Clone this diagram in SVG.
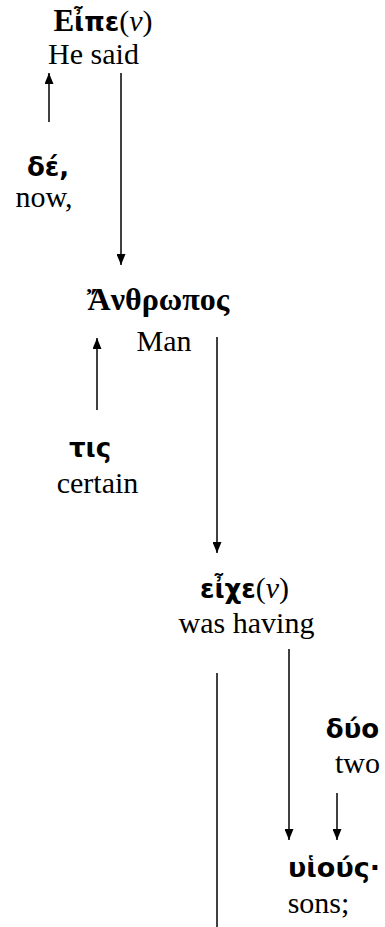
<svg xmlns="http://www.w3.org/2000/svg" width="385" height="927" viewBox="0 0 385 927">
<defs>
<marker id="ah" markerUnits="userSpaceOnUse" markerWidth="11" markerHeight="9" refX="11" refY="4.5" orient="auto">
<path d="M0,0 L11,4.5 L0,9 z" fill="#000"/>
</marker>
<style>
.en{font-family:"Liberation Serif","Times New Roman",serif;font-size:30px;fill:#000;text-anchor:middle}
.gr{font-family:"DejaVu Sans","Noto Sans",sans-serif;font-weight:bold;font-size:26px;fill:#000;text-anchor:middle}
.grs{font-family:"Liberation Serif","Times New Roman",serif;font-weight:bold;font-size:32px;fill:#000;text-anchor:middle}
.ser{font-family:"Liberation Serif","Times New Roman",serif;font-weight:normal;font-size:30px}
.sb{font-family:"Liberation Serif","Times New Roman",serif;font-weight:bold;font-size:31px}
.it{font-style:italic}
.c{stroke:#000;stroke-width:1.5;fill:none}
.a{marker-end:url(#ah)}
</style>
</defs>
<rect width="385" height="927" fill="#fff"/>
<g id="connectors">
<line class="c a" x1="49" y1="122" x2="49" y2="73"/>
<line class="c a" x1="121" y1="73" x2="121" y2="265"/>
<line class="c a" x1="97" y1="410" x2="97" y2="338"/>
<line class="c a" x1="217" y1="337" x2="217" y2="553"/>
<line class="c a" x1="289" y1="649" x2="289" y2="840"/>
<line class="c" x1="217" y1="673" x2="217" y2="927"/>
<line class="c a" x1="337" y1="793" x2="337" y2="840"/>
</g>
<g id="eipen">
<text class="gr" x="103" y="31"><tspan class="sb">Ε</tspan>ἶπε<tspan class="ser">(</tspan><tspan class="ser it">ν</tspan><tspan class="ser">)</tspan></text>
<text class="en" x="93.5" y="64">He said</text>
</g>
<g id="de">
<text class="gr" x="48" y="176">δέ,</text>
<text class="en" x="44" y="207">now,</text>
</g>
<g id="anthropos">
<text class="grs" x="158" y="310">Ἄνθρωπος</text>
<text class="en" x="164" y="351">Man</text>
</g>
<g id="tis">
<text class="gr" x="90" y="457">τις</text>
<text class="en" x="97.5" y="493">certain</text>
</g>
<g id="eichen">
<text class="gr" x="244.5" y="598">εἶχε<tspan class="ser">(</tspan><tspan class="ser it">ν</tspan><tspan class="ser">)</tspan></text>
<text class="en" x="246.5" y="633">was having</text>
</g>
<g id="duo">
<text class="gr" x="352.5" y="738">δύο</text>
<text class="en" x="357.5" y="773">two</text>
</g>
<g id="huious">
<text class="gr" x="334" y="877" style="font-size:27px">υἱούς·</text>
<text class="en" x="318.5" y="913">sons;</text>
</g>
</svg>
